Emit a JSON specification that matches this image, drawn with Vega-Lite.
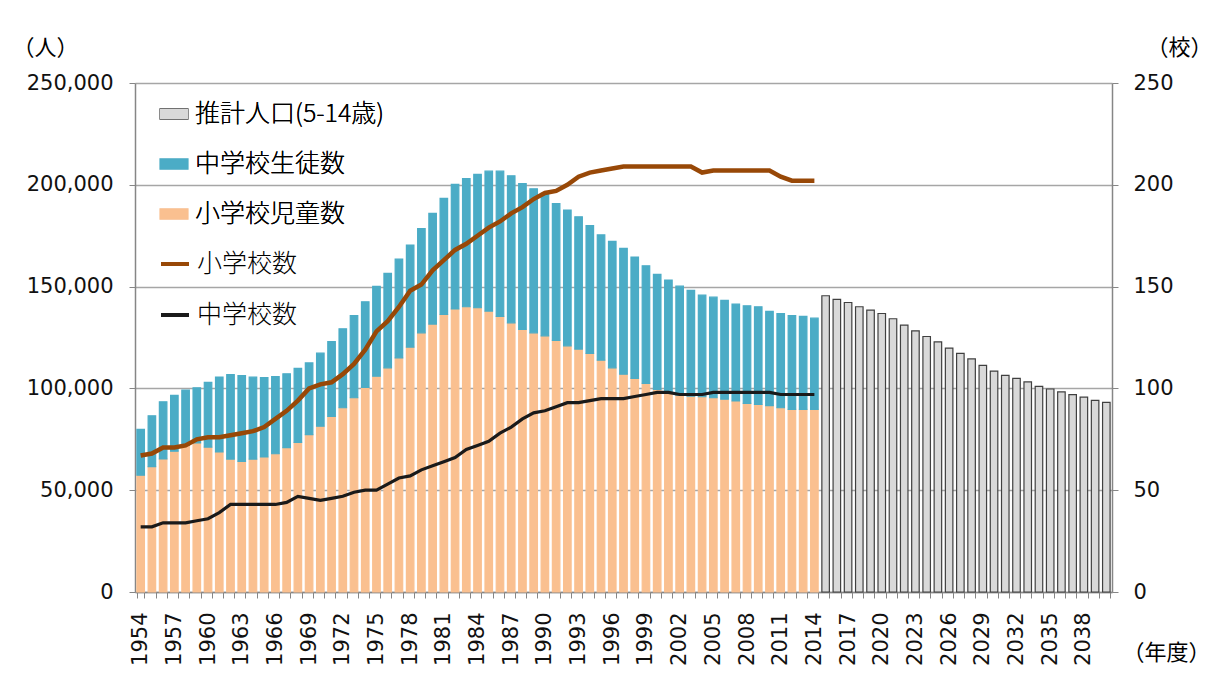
{
  "$schema": "https://vega.github.io/schema/vega-lite/v6.json",
  "width": 977,
  "height": 509,
  "autosize": {"type": "none"},
  "padding": {"left": 135, "top": 83, "right": 113, "bottom": 87},
  "background": "white",
  "data": {"values": [
    {"year":1954,"小学校児童数":57350,"中学校生徒数":22550,"小学校数":67,"中学校数":32},
    {"year":1955,"小学校児童数":61570,"中学校生徒数":25000,"小学校数":68,"中学校数":32},
    {"year":1956,"小学校児童数":65340,"中学校生徒数":28090,"小学校数":71,"中学校数":34},
    {"year":1957,"小学校児童数":69120,"中学校生徒数":27450,"小学校数":71,"中学校数":34},
    {"year":1958,"小学校児童数":72000,"中学校生徒数":27170,"小学校数":72,"中学校数":34},
    {"year":1959,"小学校児童数":73200,"中学校生徒数":27100,"小学校数":75,"中学校数":35},
    {"year":1960,"小学校児童数":71200,"中学校生徒数":31800,"小学校数":76,"中学校数":36},
    {"year":1961,"小学校児童数":68800,"中学校生徒数":36800,"小学校数":76,"中学校数":39},
    {"year":1962,"小学校児童数":65300,"中学校生徒数":41500,"小学校数":77,"中学校数":43},
    {"year":1963,"小学校児童数":64200,"中学校生徒数":42100,"小学校数":78,"中学校数":43},
    {"year":1964,"小学校児童数":65300,"中学校生徒数":40200,"小学校数":79,"中学校数":43},
    {"year":1965,"小学校児童数":66300,"中学校生徒数":39000,"小学校数":81,"中学校数":43},
    {"year":1966,"小学校児童数":67900,"中学校生徒数":37900,"小学校数":85,"中学校数":43},
    {"year":1967,"小学校児童数":70900,"中学校生徒数":36300,"小学校数":89,"中学校数":44},
    {"year":1968,"小学校児童数":73500,"中学校生徒数":36300,"小学校数":94,"中学校数":47},
    {"year":1969,"小学校児童数":77300,"中学校生徒数":35200,"小学校数":100,"中学校数":46},
    {"year":1970,"小学校児童数":81400,"中学校生徒数":35900,"小学校数":102,"中学校数":45},
    {"year":1971,"小学校児童数":86300,"中学校生徒数":36700,"小学校数":103,"中学校数":46},
    {"year":1972,"小学校児童数":90500,"中学校生徒数":38800,"小学校数":107,"中学校数":47},
    {"year":1973,"小学校児童数":95400,"中学校生徒数":40300,"小学校数":112,"中学校数":49},
    {"year":1974,"小学校児童数":100500,"中学校生徒数":42000,"小学校数":119,"中学校数":50},
    {"year":1975,"小学校児童数":106000,"中学校生徒数":44100,"小学校数":128,"中学校数":50},
    {"year":1976,"小学校児童数":110100,"中学校生徒数":46400,"小学校数":133,"中学校数":53},
    {"year":1977,"小学校児童数":115000,"中学校生徒数":48500,"小学校数":140,"中学校数":56},
    {"year":1978,"小学校児童数":120300,"中学校生徒数":50100,"小学校数":148,"中学校数":57},
    {"year":1979,"小学校児童数":127300,"中学校生徒数":51200,"小学校数":151,"中学校数":60},
    {"year":1980,"小学校児童数":131600,"中学校生徒数":54400,"小学校数":158,"中学校数":62},
    {"year":1981,"小学校児童数":136300,"中学校生徒数":57000,"小学校数":163,"中学校数":64},
    {"year":1982,"小学校児童数":139000,"中学校生徒数":61200,"小学校数":168,"中学校数":66},
    {"year":1983,"小学校児童数":140100,"中学校生徒数":62900,"小学校数":171,"中学校数":70},
    {"year":1984,"小学校児童数":139600,"中学校生徒数":65500,"小学校数":175,"中学校数":72},
    {"year":1985,"小学校児童数":138000,"中学校生徒数":68700,"小学校数":179,"中学校数":74},
    {"year":1986,"小学校児童数":135400,"中学校生徒数":71300,"小学校数":182,"中学校数":78},
    {"year":1987,"小学校児童数":132200,"中学校生徒数":72200,"小学校数":186,"中学校数":81},
    {"year":1988,"小学校児童数":129000,"中学校生徒数":71600,"小学校数":189,"中学校数":85},
    {"year":1989,"小学校児童数":127300,"中学校生徒数":70700,"小学校数":193,"中学校数":88},
    {"year":1990,"小学校児童数":125800,"中学校生徒数":70000,"小学校数":196,"中学校数":89},
    {"year":1991,"小学校児童数":123600,"中学校生徒数":67200,"小学校数":197,"中学校数":91},
    {"year":1992,"小学校児童数":120900,"中学校生徒数":66700,"小学校数":200,"中学校数":93},
    {"year":1993,"小学校児童数":119300,"中学校生徒数":65000,"小学校数":204,"中学校数":93},
    {"year":1994,"小学校児童数":117200,"中学校生徒数":62700,"小学校数":206,"中学校数":94},
    {"year":1995,"小学校児童数":113900,"中学校生徒数":61500,"小学校数":207,"中学校数":95},
    {"year":1996,"小学校児童数":110100,"中学校生徒数":62100,"小学校数":208,"中学校数":95},
    {"year":1997,"小学校児童数":107000,"中学校生徒数":61800,"小学校数":209,"中学校数":95},
    {"year":1998,"小学校児童数":104900,"中学校生徒数":59600,"小学校数":209,"中学校数":96},
    {"year":1999,"小学校児童数":102500,"中学校生徒数":57700,"小学校数":209,"中学校数":97},
    {"year":2000,"小学校児童数":99500,"中学校生徒数":56500,"小学校数":209,"中学校数":98},
    {"year":2001,"小学校児童数":97800,"中学校生徒数":55400,"小学校数":209,"中学校数":98},
    {"year":2002,"小学校児童数":96700,"中学校生徒数":53500,"小学校数":209,"中学校数":97},
    {"year":2003,"小学校児童数":96200,"中学校生徒数":51900,"小学校数":209,"中学校数":97},
    {"year":2004,"小学校児童数":95900,"中学校生徒数":49900,"小学校数":206,"中学校数":97},
    {"year":2005,"小学校児童数":95400,"中学校生徒数":49400,"小学校数":207,"中学校数":98},
    {"year":2006,"小学校児童数":94700,"中学校生徒数":48500,"小学校数":207,"中学校数":98},
    {"year":2007,"小学校児童数":93800,"中学校生徒数":47600,"小学校数":207,"中学校数":98},
    {"year":2008,"小学校児童数":92600,"中学校生徒数":48000,"小学校数":207,"中学校数":98},
    {"year":2009,"小学校児童数":92100,"中学校生徒数":48000,"小学校数":207,"中学校数":98},
    {"year":2010,"小学校児童数":91500,"中学校生徒数":46300,"小学校数":207,"中学校数":98},
    {"year":2011,"小学校児童数":90500,"中学校生徒数":46300,"小学校数":204,"中学校数":97},
    {"year":2012,"小学校児童数":89700,"中学校生徒数":46100,"小学校数":202,"中学校数":97},
    {"year":2013,"小学校児童数":89700,"中学校生徒数":45700,"小学校数":202,"中学校数":97},
    {"year":2014,"小学校児童数":89700,"中学校生徒数":44800,"小学校数":202,"中学校数":97},
    {"year":2015,"推計人口(5-14歳)":145500},
    {"year":2016,"推計人口(5-14歳)":143700},
    {"year":2017,"推計人口(5-14歳)":142200},
    {"year":2018,"推計人口(5-14歳)":140100},
    {"year":2019,"推計人口(5-14歳)":138400},
    {"year":2020,"推計人口(5-14歳)":136800},
    {"year":2021,"推計人口(5-14歳)":134200},
    {"year":2022,"推計人口(5-14歳)":131100},
    {"year":2023,"推計人口(5-14歳)":128300},
    {"year":2024,"推計人口(5-14歳)":125500},
    {"year":2025,"推計人口(5-14歳)":122900},
    {"year":2026,"推計人口(5-14歳)":119800},
    {"year":2027,"推計人口(5-14歳)":117200},
    {"year":2028,"推計人口(5-14歳)":114500},
    {"year":2029,"推計人口(5-14歳)":111300},
    {"year":2030,"推計人口(5-14歳)":108500},
    {"year":2031,"推計人口(5-14歳)":106400},
    {"year":2032,"推計人口(5-14歳)":104900},
    {"year":2033,"推計人口(5-14歳)":103200},
    {"year":2034,"推計人口(5-14歳)":101000},
    {"year":2035,"推計人口(5-14歳)":99700},
    {"year":2036,"推計人口(5-14歳)":98300},
    {"year":2037,"推計人口(5-14歳)":96900},
    {"year":2038,"推計人口(5-14歳)":95700},
    {"year":2039,"推計人口(5-14歳)":94100},
    {"year":2040,"推計人口(5-14歳)":93100}
  ]},
  "layer": [
    {
      "transform": [
        {"fold": ["小学校児童数", "中学校生徒数", "推計人口(5-14歳)"], "as": ["key", "value"]},
        {"filter": "isValid(datum.value)"}
      ],
      "mark": {"type": "bar", "strokeWidth": 1.2},
      "encoding": {
        "x": {
          "field": "year", "type": "ordinal",
          "scale": {"paddingInner": 0.33, "paddingOuter": 0.17},
          "axis": {
            "title": "（年度）",
            "titleAngle": 0, "titleX": 1031, "titleY": 60,
            "titleAlign": "center", "titleBaseline": "middle",
            "titleFontSize": 22,
            "labelAngle": -90, "labelPadding": 14, "labelFontSize": 21,
            "labelOverlap": false,
            "labelExpr": "(datum.value - 1954) % 3 === 0 ? datum.label : ''",
            "tickBand": "extent", "tickSize": 6
          }
        },
        "y": {
          "field": "value", "type": "quantitative", "stack": "zero",
          "scale": {"domain": [0, 250000], "nice": false},
          "axis": {
            "orient": "left",
            "values": [0, 50000, 100000, 150000, 200000, 250000],
            "format": ",d",
            "title": "（人）",
            "titleAngle": 0, "titleX": -90, "titleY": -36,
            "titleAlign": "center", "titleBaseline": "middle",
            "grid": true, "gridColor": "#a6a6a6", "gridWidth": 1.5,
            "tickSize": 6, "labelPadding": 16
          }
        },
        "color": {
          "field": "key", "type": "nominal",
          "scale": {
            "domain": ["推計人口(5-14歳)", "中学校生徒数", "小学校児童数"],
            "range": ["#d9d9d9", "#4bacc6", "#fac090"]
          },
          "legend": {
            "orient": "none", "legendX": 24, "legendY": 16,
            "title": null, "padding": 0,
            "labelFont": "Noto Sans CJK JP", "labelFontSize": 25, "labelFontWeight": 300, "labelColor": "#000",
            "labelOffset": 6, "labelLimit": 400, "rowPadding": 22, "symbolSize": 784,
            "symbolType": "M-1,-0.36H1V0.36H-1Z", "symbolStrokeWidth": 1.2, "symbolOpacity": 1
          }
        },
        "stroke": {
          "field": "key", "type": "nominal",
          "scale": {
            "domain": ["推計人口(5-14歳)", "中学校生徒数", "小学校児童数"],
            "range": ["#404040", "#4bacc6", "#fac090"]
          },
          "legend": {
            "orient": "none", "legendX": 24, "legendY": 16,
            "title": null, "padding": 0,
            "labelFont": "Noto Sans CJK JP", "labelFontSize": 25, "labelFontWeight": 300, "labelColor": "#000",
            "labelOffset": 6, "labelLimit": 400, "rowPadding": 22, "symbolSize": 784,
            "symbolType": "M-1,-0.36H1V0.36H-1Z", "symbolStrokeWidth": 1.2, "symbolOpacity": 1
          }
        },
        "order": {"field": "key", "sort": "descending"}
      }
    },
    {
      "layer": [
        {
          "transform": [
            {"fold": ["小学校数"], "as": ["key", "value"]},
            {"filter": "isValid(datum.value)"}
          ],
          "mark": {"type": "line", "strokeWidth": 4.5},
          "encoding": {
            "x": {"field": "year", "type": "ordinal"},
            "y": {
              "field": "value", "type": "quantitative",
              "scale": {"domain": [0, 250], "nice": false},
              "axis": {
                "orient": "right",
                "values": [0, 50, 100, 150, 200, 250],
                "title": "（校）",
                "titleAngle": 0, "titleX": 67, "titleY": -36,
                "titleAlign": "center", "titleBaseline": "middle",
                "grid": false, "tickSize": 6, "labelPadding": 15
              }
            },
            "color": {
              "field": "key", "type": "nominal",
              "scale": {"domain": ["小学校数", "中学校数"], "range": ["#984807", "#1a1a1a"]},
              "legend": {
                "orient": "none", "legendX": 24, "legendY": 165,
                "title": null, "padding": 0,
                "labelFont": "Noto Sans CJK JP", "labelFontSize": 25, "labelFontWeight": 300, "labelColor": "#000",
                "labelOffset": 6, "labelLimit": 400, "rowPadding": 22, "symbolSize": 784,
                "symbolType": "stroke", "symbolStrokeWidth": 4, "symbolOpacity": 1
              }
            }
          }
        },
        {
          "transform": [
            {"fold": ["中学校数"], "as": ["key", "value"]},
            {"filter": "isValid(datum.value)"}
          ],
          "mark": {"type": "line", "strokeWidth": 3.2},
          "encoding": {
            "x": {"field": "year", "type": "ordinal"},
            "y": {"field": "value", "type": "quantitative"},
            "color": {
              "field": "key", "type": "nominal",
              "scale": {"domain": ["小学校数", "中学校数"], "range": ["#984807", "#1a1a1a"]}
            }
          }
        }
      ]
    }
  ],
  "resolve": {"scale": {"y": "independent", "color": "independent"}},
  "config": {
    "view": {"stroke": null},
    "axis": {
      "domainColor": "#868686", "domainWidth": 1.5,
      "tickColor": "#868686", "tickWidth": 1,
      "labelColor": "#111", "labelFont": "DejaVu Sans", "labelFontSize": 21,
      "titleFont": "Noto Sans CJK JP", "titleFontWeight": "normal",
      "titleFontSize": 22, "titleColor": "#000"
    }
  }
}
